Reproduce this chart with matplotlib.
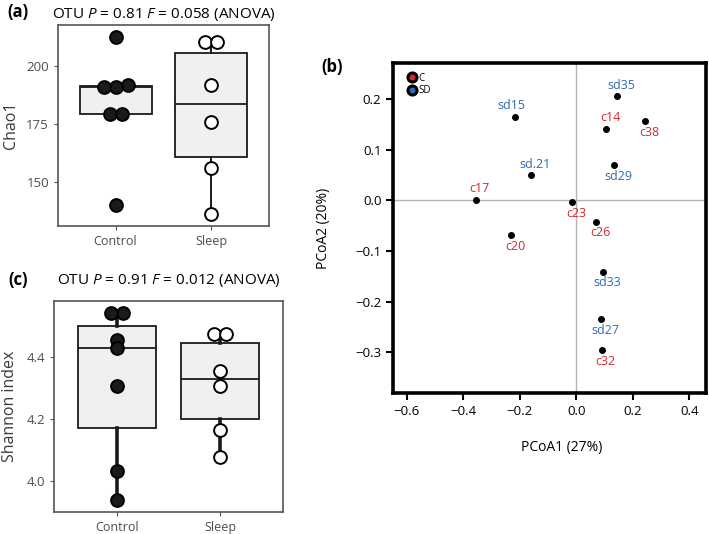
import numpy as np
import matplotlib
matplotlib.use("Agg")
import matplotlib.pyplot as plt
from matplotlib.lines import Line2D

plt.rcParams["font.family"] = ["Open Sans", "DejaVu Sans"]
plt.rcParams["mathtext.fontset"] = "custom"
plt.rcParams["mathtext.rm"] = "Open Sans"
plt.rcParams["mathtext.it"] = "Open Sans:italic"

# ---- data ----
groups = ["Control", "Sleep"]

chao1_control = [212.5, 192.0, 191.0, 191.0, 179.4, 179.4, 140.2]
chao1_sleep = [210.5, 210.5, 191.7, 175.7, 155.9, 136.2]

shannon_control = [4.540, 4.540, 4.454, 4.427, 4.306, 4.033, 3.939]
shannon_sleep = [4.473, 4.473, 4.354, 4.304, 4.164, 4.078]

title_a = r"OTU $\it{P}$ = 0.81 $\it{F}$ = 0.058 (ANOVA)"
title_c = r"OTU $\it{P}$ = 0.91 $\it{F}$ = 0.012 (ANOVA)"

pcoa_names = ["sd35", "c14", "c38", "sd29", "sd15", "sd.21", "c17",
              "c23", "c26", "c20", "sd33", "sd27", "c32"]
pcoa1 = [0.144, 0.106, 0.245, 0.135, -0.215, -0.160, -0.356,
         -0.015, 0.071, -0.230, 0.094, 0.087, 0.090]
pcoa2 = [0.206, 0.141, 0.156, 0.070, 0.165, 0.050, 0.001,
         -0.004, -0.042, -0.069, -0.141, -0.235, -0.296]

# label placement (above / below the point)
label_side = {"sd35": 1, "c14": 1, "c38": -1, "sd29": -1, "sd15": 1,
              "sd.21": 1, "c17": 1, "c23": -1, "c26": -1, "c20": -1,
              "sd33": -1, "sd27": -1, "c32": -1}

RED = "#d42a2e"
BLUE = "#2e6cb0"
GRAY_TXT = "#4d4d4d"


def dot_offsets(values, tol, spacing):
    # side-by-side placement for (nearly) equal values, like a dotplot
    vals = np.asarray(values, dtype=float)
    order = np.argsort(vals)
    offs = np.zeros(len(vals))
    clusters = []
    cur = [order[0]]
    for i in order[1:]:
        if abs(vals[i] - vals[cur[-1]]) <= tol:
            cur.append(i)
        else:
            clusters.append(cur)
            cur = [i]
    clusters.append(cur)
    for c in clusters:
        n = len(c)
        for k, idx in enumerate(c):
            offs[idx] = (k - (n - 1) / 2) * spacing
    return offs


def box_panel(ax, data, ylim, yticks, ylabel, title, tag, whisker_lw, spacing,
              title_pad, tag_xy):
    bp = ax.boxplot(data, positions=[1, 2], widths=0.75, patch_artist=True,
                    showfliers=False, showcaps=False, whis=1.5, zorder=2)
    for b in bp["boxes"]:
        b.set_facecolor("#f0f0f0")
        b.set_edgecolor("#1a1a1a")
        b.set_linewidth(1.3)
    for m in bp["medians"]:
        m.set_color("#1a1a1a")
        m.set_linewidth(1.3)
    for w in bp["whiskers"]:
        w.set_color("#1a1a1a")
        w.set_linewidth(whisker_lw)

    tol = 0.02 * (ylim[1] - ylim[0])
    styles = [dict(mfc="#1a1a1a", mec="#000000"), dict(mfc="white", mec="#000000")]
    for pos, vals, st in zip([1, 2], data, styles):
        offs = dot_offsets(vals, tol, spacing)
        ax.plot(pos + offs, vals, "o", ms=9.2, mew=1.4, linestyle="none", zorder=3, **st)

    ax.set_xlim(0.4, 2.6)
    ax.set_ylim(*ylim)
    ax.set_xticks([1, 2])
    ax.set_xticklabels(groups)
    ax.set_yticks(yticks)
    ax.set_ylabel(ylabel, fontsize=11.5, color="#3a3a3a")
    ax.tick_params(colors="#555555", labelcolor=GRAY_TXT, labelsize=9.5, length=3, width=0.8)
    ax.tick_params(axis="x", labelsize=9)
    for s in ax.spines.values():
        s.set_color("#555555")
        s.set_linewidth(1.2)
    ax.set_title(title, fontsize=11, pad=title_pad)
    ax.text(tag_xy[0], tag_xy[1], tag, transform=ax.transAxes, fontsize=12,
            fontweight="bold", ha="center", va="center")


fig = plt.figure(figsize=(7.09, 5.34), dpi=100)

ax_a = fig.add_axes([0.0818, 0.5768, 0.2976, 0.3764])
box_panel(ax_a, [chao1_control, chao1_sleep], (131, 217.7), [150, 175, 200],
          "Chao1", title_a, "(a)", 1.4, 0.125, 5, (-0.19, 1.065))
ax_a.yaxis.set_label_coords(-0.185, 0.5)

ax_c = fig.add_axes([0.0766, 0.0406, 0.3221, 0.3957])
box_panel(ax_c, [shannon_control, shannon_sleep], (3.899, 4.579), [4.0, 4.2, 4.4],
          "Shannon index", title_c, "(c)", 2.6, 0.116, 12, (-0.159, 1.10))
ax_c.yaxis.set_label_coords(-0.16, 0.5)
ax_c.set_yticklabels(["4.0", "4.2", "4.4"])

# ---- PCoA panel ----
ax_b = fig.add_axes([0.5547, 0.2646, 0.4406, 0.6169])
ax_b.axhline(0, color="#b3b3b3", lw=1.0, zorder=1)
ax_b.axvline(0, color="#b3b3b3", lw=1.0, zorder=1)
ax_b.scatter(pcoa1, pcoa2, s=16, color="black", zorder=3)
for name, x, y in zip(pcoa_names, pcoa1, pcoa2):
    col = BLUE if name.startswith("sd") else RED
    side = label_side[name]
    dx = -3 if name == "sd15" else 3
    ax_b.annotate(name, (x, y), xytext=(dx, 8 * side), textcoords="offset points",
                  ha="center", va="center", color=col, fontsize=9)

ax_b.set_xlim(-0.647, 0.458)
ax_b.set_ylim(-0.380, 0.271)
ax_b.set_xticks([-0.6, -0.4, -0.2, 0.0, 0.2, 0.4])
ax_b.set_yticks([-0.3, -0.2, -0.1, 0.0, 0.1, 0.2])
ax_b.set_xticklabels(["\u22120.6", "\u22120.4", "\u22120.2", "0.0", "0.2", "0.4"])
ax_b.set_yticklabels(["\u22120.3", "\u22120.2", "\u22120.1", "0.0", "0.1", "0.2"])
ax_b.tick_params(labelsize=9.5, length=5, width=1.5, direction="out")
for s in ax_b.spines.values():
    s.set_linewidth(2.6)
ax_b.set_xlabel("PCoA1 (27%)", fontsize=10)
ax_b.set_ylabel("PCoA2 (20%)", fontsize=10)
ax_b.xaxis.set_label_coords(0.54, -0.145)
ax_b.yaxis.set_label_coords(-0.2, 0.5)

handles = [Line2D([], [], marker="o", ls="none", mfc=RED, mec="black", mew=2.2, ms=6.5),
           Line2D([], [], marker="o", ls="none", mfc=BLUE, mec="black", mew=2.2, ms=6.5)]
ax_b.legend(handles, ["C", "SD"], loc="upper left", bbox_to_anchor=(0.02, 0.995),
            frameon=False, fontsize=7, handletextpad=0.1, labelspacing=0.15,
            handlelength=1.0, borderpad=0.3)
ax_b.text(-0.195, 0.99, "(b)", transform=ax_b.transAxes, fontsize=12,
          fontweight="bold", ha="center", va="center")

fig.savefig("out.png", dpi=100)
